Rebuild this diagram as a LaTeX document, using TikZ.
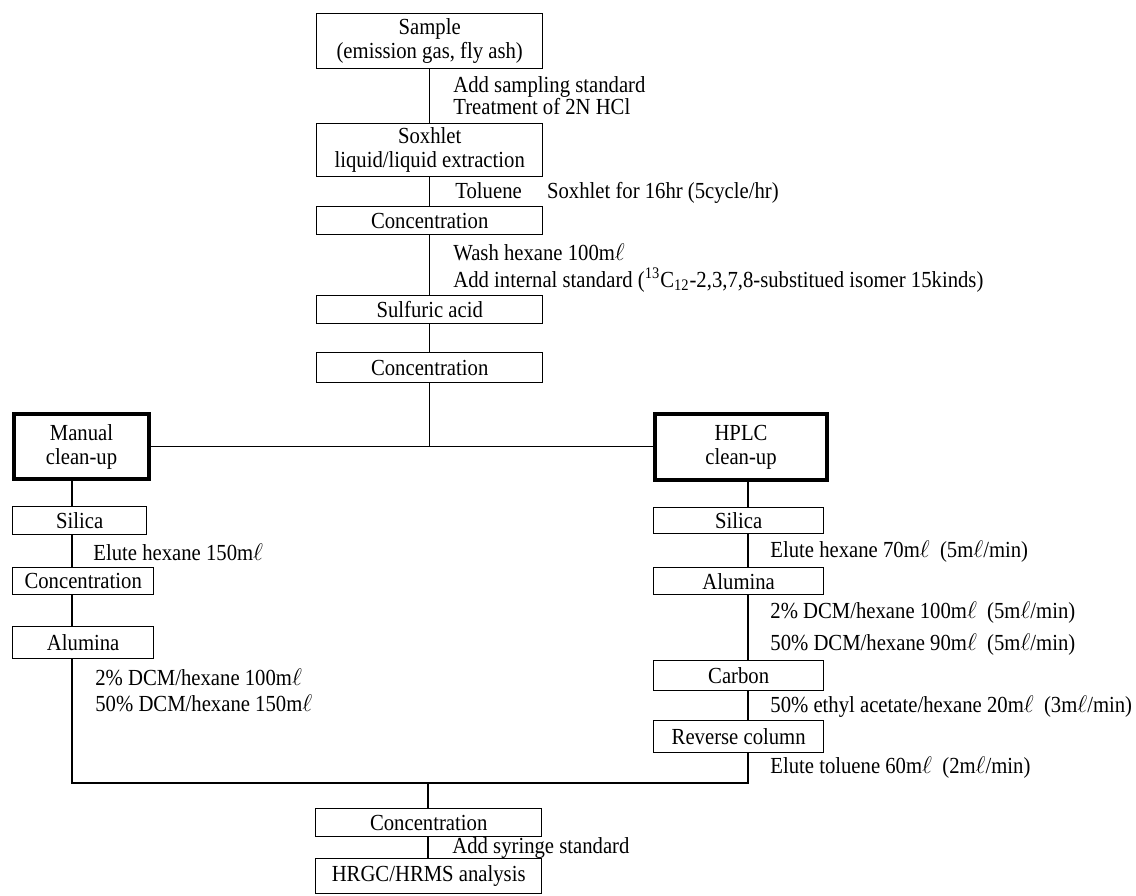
\documentclass[tikz,border=0pt]{standalone}
\usepackage{fontspec}
\setmainfont{Liberation Serif}[FakeStretch=0.9]
\usepackage{tikz}
\usetikzlibrary{positioning}
\newcommand{\mL}{m$\ell$}

\begin{document}
\begin{tikzpicture}[x=0.5pt, y=-0.5pt,
    font=\fontsize{11.5pt}{12pt}\selectfont,
    box/.style={draw, line width=0.7pt, inner sep=0pt, anchor=north west, align=center},
    bigbox/.style={box, line width=2pt},
    note/.style={anchor=west, inner sep=0pt},
    link/.style={line width=0.7pt}]
  \useasboundingbox (0,0) rectangle (1136,895);

  % main column
  \node[box, minimum width=113pt, minimum height=27.5pt] (sample) at (316,13) {Sample\\(emission gas, fly ash)};
  \node[note] (n1) at (453,87) {Add sampling standard};
  \node[note] (n2) at (453,107) {Treatment of 2N HCl};
  \node[box, minimum width=113pt, minimum height=26.5pt] (soxhlet) at (316,123) {Soxhlet\\liquid/liquid extraction};
  \node[note] (n3) at (455,193) {Toluene\hspace{1.1em}Soxhlet for 16hr (5cycle/hr)};
  \node[box, minimum width=113pt, minimum height=14pt] (conc1) at (316,206) {Concentration};
  \node[note] (n4) at (453,252) {Wash hexane 100\mL};
  \node[note] (n5) at (453,280) {Add internal standard (\textsuperscript{13}C\textsubscript{12}-2,3,7,8-substitued isomer 15kinds)};
  \node[box, minimum width=113pt, minimum height=14pt] (sulf) at (316,295) {Sulfuric acid};
  \node[box, minimum width=113pt, minimum height=15pt] (conc2) at (316,352) {Concentration};

  \draw[link] (sample) -- (soxhlet);
  \draw[link] (soxhlet) -- (conc1);
  \draw[link] (conc1) -- (sulf);
  \draw[link] (sulf) -- (conc2);

  % two clean-up branches
  \node[bigbox, minimum width=67.5pt, minimum height=32.5pt] (manual) at (12,412) {Manual\\clean-up};
  \node[bigbox, minimum width=86pt, minimum height=33pt] (hplc) at (653,412) {HPLC\\clean-up};
  \draw[link] (manual.east) -- (manual.east -| hplc.west);
  \draw[link] (conc2.south) -- (conc2.south |- manual.east);

  % manual clean-up
  \coordinate (mx) at (72,0);
  \node[box, minimum width=67pt, minimum height=14pt] (msilica) at (12,506) {Silica};
  \node[note] (m1) at (93,552) {Elute hexane 150\mL};
  \node[box, minimum width=70.5pt, minimum height=13.5pt] (mconc) at (12,567) {Concentration};
  \node[box, minimum width=70.5pt, minimum height=16pt] (malum) at (12,626) {Alumina};
  \node[note] (m2) at (95,677) {2\% DCM/hexane 100\mL};
  \node[note] (m3) at (95,703) {50\% DCM/hexane 150\mL};

  \draw[link] (manual.south -| mx) -- (msilica.north -| mx);
  \draw[link] (msilica.south -| mx) -- (mconc.north -| mx);
  \draw[link] (mconc.south -| mx) -- (malum.north -| mx);

  % HPLC clean-up
  \coordinate (hx) at (748,0);
  \node[box, minimum width=85pt, minimum height=13pt] (hsilica) at (653,507) {Silica};
  \node[note] (h1) at (770,552) {Elute hexane 70\mL~~(5\mL/min)};
  \node[box, minimum width=85pt, minimum height=13.5pt] (halum) at (653,567) {Alumina};
  \node[note] (h2) at (770,613) {2\% DCM/hexane 100\mL~~(5\mL/min)};
  \node[note] (h3) at (770,645) {50\% DCM/hexane 90\mL~~(5\mL/min)};
  \node[box, minimum width=85pt, minimum height=15pt] (carbon) at (653,660) {Carbon};
  \node[note] (h4) at (770,707) {50\% ethyl acetate/hexane 20\mL~~(3\mL/min)};
  \node[box, minimum width=85pt, minimum height=16pt] (rev) at (653,720) {Reverse column};
  \node[note] (h5) at (770,768) {Elute toluene 60\mL~~(2\mL/min)};

  \draw[link] (hplc.south -| hx) -- (hsilica.north -| hx);
  \draw[link] (hsilica.south -| hx) -- (halum.north -| hx);
  \draw[link] (halum.south -| hx) -- (carbon.north -| hx);
  \draw[link] (carbon.south -| hx) -- (rev.north -| hx);

  % merge and final analysis
  \coordinate (mbot) at (72,783);
  \coordinate (hbot) at (748,783);
  \coordinate (cbot) at (428,783);
  \node[box, minimum width=113pt, minimum height=14pt] (conc3) at (315,808) {Concentration};
  \node[note] (f1) at (452,848) {Add syringe standard};
  \node[box, minimum width=113pt, minimum height=17.5pt] (hrgc) at (315,858) {HRGC/HRMS analysis};

  \draw[link] (malum.south -| mx) -- (mbot) -- (hbot) -- (rev.south -| hx);
  \draw[link] (cbot) -- (conc3.north -| cbot);
  \draw[link] (conc3.south -| cbot) -- (hrgc.north -| cbot);
\end{tikzpicture}
\end{document}
